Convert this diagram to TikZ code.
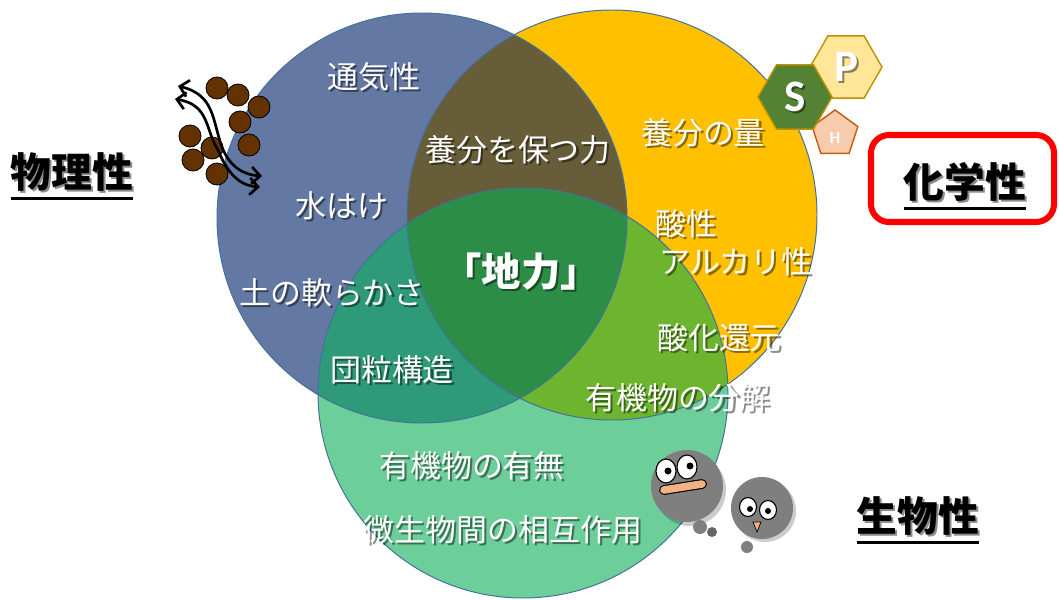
\documentclass[tikz,border=0pt]{standalone}
\usepackage{fontspec}
\newfontfamily\jp{Noto Sans CJK JP}
\newfontfamily\lat{Carlito}
\usetikzlibrary{shapes.geometric, arrows.meta}

\definecolor{bluec}{HTML}{6379A3}
\definecolor{orangec}{HTML}{FFC000}
\definecolor{greenc}{HTML}{6CCF99}
\definecolor{olivec}{HTML}{675D38}
\definecolor{tealc}{HTML}{2E9A77}
\definecolor{limec}{HTML}{6DB52F}
\definecolor{centerc}{HTML}{2C8D47}
\definecolor{ringline}{HTML}{41719C}
\definecolor{soil}{HTML}{633200}
\definecolor{blobgray}{HTML}{7F7F7F}
\definecolor{mouth}{HTML}{F4B183}
\definecolor{hexgreen}{HTML}{548235}
\definecolor{hexgold}{HTML}{BF9000}
\definecolor{hexyellow}{HTML}{FFE699}
\definecolor{pentfill}{HTML}{F8CBAD}
\definecolor{pentline}{HTML}{C55A11}

% text with a drop shadow: [style]{name}{x,y}{text}
\newcommand{\shadowed}[4][word]{%
  \node[#1, text=black, opacity=0.45, xshift=1.5pt, yshift=-1.5pt] (#2-s) at (#3) {#4};
  \node[#1] (#2) at (#3) {#4};}

\begin{document}
\begin{tikzpicture}[x=0.025cm, y=-0.025cm,
    ring/.style={draw=ringline, line width=0.7pt},
    word/.style={text=white, inner sep=0pt, font=\jp\fontsize{22}{26}\selectfont},
    bigword/.style={word, font=\jp\bfseries\fontsize{28}{32}\selectfont},
    fieldname/.style={text=black, inner sep=0pt, font=\jp\bfseries\fontsize{29}{34}\selectfont},
    uline/.style={line width=2pt},
    grain/.style={fill=soil, draw=black, line width=0.6pt},
    flow/.style={{Straight Barb[length=6pt,width=12pt]}-{Straight Barb[length=6pt,width=12pt]}, line width=1.9pt},
    hexa/.style={regular polygon, regular polygon sides=6, line width=1pt, inner sep=0pt,
      text=white, font=\lat\bfseries\fontsize{32}{32}\selectfont}]
\useasboundingbox (0,0) rectangle (1059,599);

% the three circles
\fill[bluec] (422,218) circle[radius=205];
\fill[orangec] (612,215) circle[radius=205];
\fill[greenc] (523,393) circle[radius=205];
% overlaps
\begin{scope}
  \clip (422,218) circle[radius=205];
  \fill[olivec] (612,215) circle[radius=205];
  \fill[tealc] (523,393) circle[radius=205];
\end{scope}
\begin{scope}
  \clip (612,215) circle[radius=205];
  \fill[limec] (523,393) circle[radius=205];
\end{scope}
\begin{scope}
  \clip (422,218) circle[radius=205];
  \clip (612,215) circle[radius=205];
  \fill[centerc] (523,393) circle[radius=205];
\end{scope}
\draw[ring] (422,218) circle[radius=205];
\draw[ring] (612,215) circle[radius=205];
\draw[ring] (523,393) circle[radius=205];

% words inside
\shadowed{air}{374,77}{通気性}
\shadowed{keep}{518,150}{養分を保つ力}
\shadowed{amount}{703,133}{養分の量}
\shadowed{drain}{342,206}{水はけ}
\shadowed{acid}{686,224}{酸性}
\shadowed{alkali}{736,262}{アルカリ性}
\shadowed[bigword]{fert}{521,272}{「地力」}
\shadowed{soft}{332,293}{土の軟らかさ}
\shadowed{redox}{719,338}{酸化還元}
\shadowed{aggr}{392,370}{団粒構造}
\shadowed{decomp}{678,398}{有機物の分解}
\shadowed{organic}{472,466}{有機物の有無}
\shadowed{micro}{503,530}{微生物間の相互作用}

% nutrients
\node[hexa, fill=hexyellow, draw=hexgold, minimum size=1.8cm] (phex) at (846,67) {};
\node[regular polygon, regular polygon sides=5, fill=pentfill, draw=pentline, line width=1pt,
  minimum size=1.2cm, inner sep=0pt] (hpent) at (835,134) {};
\node[hexa, fill=hexgreen, draw=hexgold, minimum size=1.85cm] (shex) at (795,97) {};
\shadowed[hexa, draw=none]{sym-s}{795,97}{S}
\shadowed[hexa, draw=none]{sym-p}{846,67}{P}
\node[text=white, font=\lat\bfseries\fontsize{12}{12}\selectfont] (sym-h) at (835,138) {H};

% soil grains and water flow
\foreach \x/\y in {217/88, 238/95, 259/107, 240/122, 249/145, 190/136, 212/148, 193/160, 217/174}
  \draw[grain] (\x,\y) circle[radius=11];
\draw[flow] (178,86) .. controls (215,95) and (212,120) .. (222,147)
  .. controls (230,168) and (245,175) .. (262,176);
\draw[flow] (175,99) .. controls (210,105) and (205,130) .. (218,150)
  .. controls (230,180) and (245,186) .. (260,187);

% two little soil fellows
\fill[black, opacity=0.2] (690,490) circle[radius=36];
\fill[blobgray] (700,527) circle[radius=7];
\fill[blobgray!80!black] (712,532) circle[radius=5];
\fill[blobgray] (687,486) circle[radius=36];
\draw[fill=white, line width=0.8pt] (666,471) ellipse[x radius=10, y radius=12];
\draw[fill=white, line width=0.8pt] (687,467) ellipse[x radius=10, y radius=12];
\fill (668,471) circle[radius=3.5];
\fill (690,466) circle[radius=3.5];
\draw[line cap=round, line width=7pt] (664,490) -- (702,484);
\draw[mouth, line cap=round, line width=5.4pt] (664,490) -- (702,484);

\fill[black, opacity=0.2] (765,511) circle[radius=31];
\fill[blobgray] (762,508) circle[radius=31];
\fill[blobgray] (747,547) circle[radius=6];
\draw[fill=white, line width=0.8pt] (748,507) ellipse[x radius=8.5, y radius=9.5];
\draw[fill=white, line width=0.8pt] (768,510) ellipse[x radius=8.5, y radius=9.5];
\fill (750,509) circle[radius=3];
\fill (768,511) circle[radius=3];
\draw[fill=mouth, line width=0.5pt] (753,522) -- (761,522) -- (757,532) -- cycle;

% the three fields
\shadowed[fieldname]{phys}{72,172}{物理性}
\shadowed[fieldname]{chem}{965,182}{化学性}
\shadowed[fieldname]{bio}{918,516}{生物性}
\draw[uline] ([yshift=-5pt]phys.south west) -- ([yshift=-5pt]phys.south east);
\draw[uline] ([yshift=-5pt]chem.south west) -- ([yshift=-5pt]chem.south east);
\draw[uline] ([yshift=-5pt]bio.south west) -- ([yshift=-5pt]bio.south east);
\node[draw=red, line width=4.3pt, rounded corners=0.45cm, minimum width=4.575cm,
  minimum height=2.175cm, inner sep=0pt] (chembox) at (962.5,178.5) {};
\end{tikzpicture}
\end{document}
